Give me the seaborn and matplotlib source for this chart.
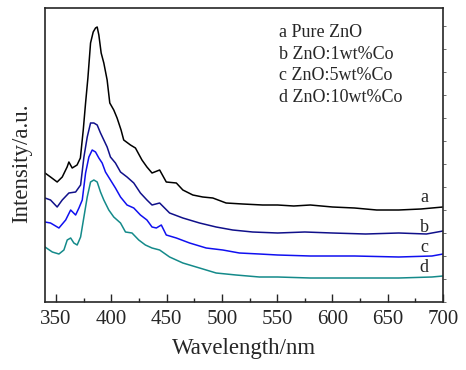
import pandas as pd
import numpy as np
import seaborn as sns
import matplotlib
matplotlib.use("Agg")
import matplotlib.pyplot as plt
from matplotlib.ticker import MultipleLocator

# PL spectra (intensity in arbitrary units)
wl_a = [340, 345, 351, 355.6, 360, 361.6, 364.6, 369, 372, 374.6, 376.7, 378.8, 381.2,
        383.6, 385.7, 387.2, 388.7, 390.8, 393.2, 396.2, 398.6, 402.2, 405.2, 408.8,
        411.2, 417.3, 421.8, 427.7, 432.2, 436.8, 443.7, 449.7, 458.8, 464.7, 473.7,
        482.7, 491.8, 503.8, 518.8, 536.8, 550.4, 565, 580, 600, 620, 640, 660, 680, 700]
int_a = [129, 125, 120, 125, 135, 140, 134, 137, 144, 172, 199, 224, 259,
         270, 274, 275, 267, 249, 239, 222, 199, 192, 184, 172,
         162, 157, 154, 142, 135, 129, 132, 120, 119, 112, 107,
         105, 104, 99, 98, 97, 97, 96, 97, 95, 94, 92, 92, 93, 95]

wl_b = [340, 345, 351, 355.6, 361.6, 367.7, 372.2, 375.2, 378.2, 381.2, 384.2, 387.2,
        390.2, 393.2, 396.2, 399.2, 403.7, 408.3, 414.2, 420.3, 426.3, 432.2, 436.8,
        443.7, 452.7, 464.7, 479.8, 494.8, 509.8, 527.8, 550.4, 575, 600, 630, 660, 685, 700]
int_b = [104, 102, 95, 102, 109, 110, 117, 145, 165, 179, 179, 177,
         169, 162, 155, 145, 139, 130, 125, 119, 109, 102, 97,
         99, 89, 84, 79, 75, 72, 70, 69, 70, 69, 68, 69, 68, 71]

wl_c = [340, 345, 352.6, 358.7, 363.2, 367.7, 370.7, 373.7, 376.7, 379.7, 382.7, 385.7,
        388.7, 391.7, 394.7, 399.2, 403.7, 408.3, 414.2, 420.3, 426.3, 432.2, 436.8,
        440.7, 445.2, 449.7, 458.8, 470.8, 485.8, 500.8, 515.8, 533.9, 550.4, 580, 620,
        660, 690, 700]
int_c = [80, 79, 74, 82, 92, 87, 94, 102, 129, 145, 152, 150,
         144, 139, 130, 122, 114, 105, 97, 94, 87, 82, 75,
         74, 77, 67, 64, 59, 54, 52, 49, 48, 47, 46, 46,
         45, 46, 48]

wl_d = [340, 346.6, 352.6, 357.1, 360.1, 363.2, 366.1, 369.1, 372.2, 375.2, 378.2, 381.2,
        384.2, 387.2, 390.2, 393.2, 397.7, 402.2, 408.3, 412.8, 418.7, 424.8, 430.8, 436.8,
        443.7, 452.7, 464.7, 479.8, 494.8, 512.8, 533.9, 550.4, 580, 620, 660, 690, 700]
int_d = [55, 50, 48, 52, 62, 64, 59, 57, 65, 85, 105, 120,
         122, 120, 110, 102, 92, 85, 79, 70, 69, 62, 57, 54,
         52, 45, 39, 34, 29, 27, 25, 25, 24, 24, 24, 25, 26]

series = [("a", "a Pure ZnO", wl_a, int_a),
          ("b", "b ZnO:1wt%Co", wl_b, int_b),
          ("c", "c ZnO:5wt%Co", wl_c, int_c),
          ("d", "d ZnO:10wt%Co", wl_d, int_d)]
colors = {"a": "#000000", "b": "#10108a", "c": "#1010f0", "d": "#148a8a"}
tag_y = {"a": 105, "b": 75, "c": 55, "d": 34}

rows = []
for key, name, wl, iy in series:
    for w, v in zip(wl, iy):
        rows.append((key, w, v))
df = pd.DataFrame(rows, columns=["sample", "wavelength", "intensity"])

sns.set_style("ticks")
plt.rcParams['font.family'] = ['Liberation Serif', 'DejaVu Serif']

fig = plt.figure(figsize=(4.66, 3.70), dpi=100)
ax = fig.add_axes([45 / 466, 1 - 302 / 370, 398 / 466, 294 / 370])

sns.lineplot(data=df, x="wavelength", y="intensity", hue="sample", palette=colors,
             linewidth=1.1, legend=False, ax=ax, sort=False, estimator=None)

for key, name, wl, iy in series:
    ax.text(683, tag_y[key], key, fontsize=13, ha="center", va="center")

ys = [0.915, 0.843, 0.770, 0.697]
for (key, name, wl, iy), yy in zip(series, ys):
    ax.text(0.588, yy, name, transform=ax.transAxes, fontsize=13, ha="left", va="center")

ax.set_xlim(340, 700)
ax.set_ylim(0, 294)
ax.xaxis.set_major_locator(MultipleLocator(50))
ax.xaxis.set_minor_locator(MultipleLocator(25))
ax.tick_params(axis="x", which="major", direction="in", length=6, width=1, labelsize=15, pad=6)
ax.tick_params(axis="x", which="minor", direction="in", length=3, width=1)
ax.yaxis.tick_right()
ax.yaxis.set_major_locator(MultipleLocator(23))
ax.tick_params(axis="y", which="major", direction="out", length=2, width=0.6, labelright=False,
               labelleft=False, color="#555555")
ax.set_xlabel("Wavelength/nm", fontsize=16.5, labelpad=6)
ax.set_ylabel("Intensity/a.u.", fontsize=16.5)
ax.yaxis.set_label_position("left")
ax.yaxis.set_label_coords(-0.032, 0.473)
for s in ax.spines.values():
    s.set_linewidth(1.2)
    s.set_visible(True)

fig.savefig("out.png", dpi=100)
